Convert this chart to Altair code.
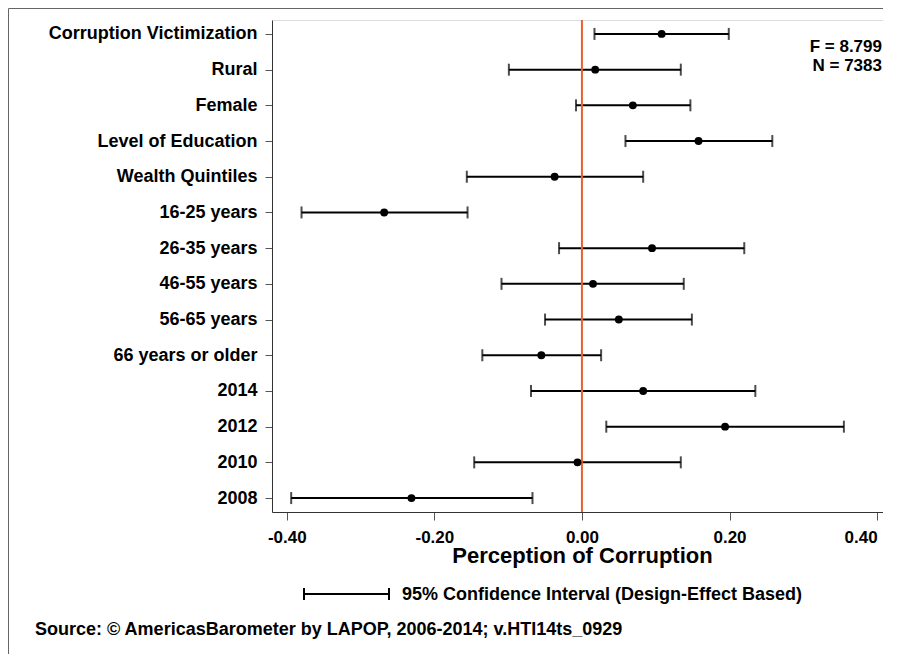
import altair as alt
import pandas as pd

categories = ["Corruption Victimization", "Rural", "Female", "Level of Education",
              "Wealth Quintiles", "16-25 years", "26-35 years", "46-55 years",
              "56-65 years", "66 years or older", "2014", "2012", "2010", "2008"]
estimates = [0.108, 0.018, 0.069, 0.158, -0.037, -0.268, 0.095, 0.015,
             0.050, -0.055, 0.083, 0.194, -0.006, -0.231]
ci_low = [0.017, -0.099, -0.008, 0.059, -0.156, -0.380, -0.031, -0.109,
          -0.050, -0.135, -0.069, 0.033, -0.146, -0.394]
ci_high = [0.199, 0.134, 0.147, 0.258, 0.083, -0.155, 0.220, 0.138,
           0.149, 0.026, 0.235, 0.355, 0.134, -0.067]
x_ticks = [-0.4, -0.2, 0.0, 0.2, 0.4]
stats_text = ["F = 8.799", "N = 7383"]

FONT = "Liberation Sans"

df = pd.DataFrame({"var": categories, "est": estimates, "lo": ci_low, "hi": ci_high})

xscale = alt.Scale(domain=[-0.42, 0.408], nice=False, zero=False)
yscale = alt.Scale(type="point", domain=categories, padding=0.39)

xaxis = alt.Axis(values=x_ticks, grid=False, domainColor="#333333",
                 labelExpr="replace(format(datum.value, '.2f'), '\u2212', '-')",
                 tickColor="#555555", tickSize=8, labelPadding=9, labelFontSize=17,
                 labelFont=FONT, labelFontWeight="bold", labelColor="black",
                 labelFlush=10,
                 title="Perception of Corruption", titleFont=FONT, titleFontSize=22,
                 titleFontWeight="bold", titleColor="black", titlePadding=0,
                 titleX=310, titleAlign="center")
yaxis = alt.Axis(title=None, grid=False, domainColor="#333333", tickColor="#555555",
                 tickSize=7, labelPadding=8, labelFontSize=18, labelFont=FONT,
                 labelFontWeight="bold", labelColor="black", labelLimit=400)

base = alt.Chart(df)

bars = base.mark_rule(color="black", strokeWidth=2).encode(
    x=alt.X("lo:Q", scale=xscale, axis=xaxis),
    x2="hi:Q",
    y=alt.Y("var:N", scale=yscale, axis=yaxis, sort=categories),
)
cap_lo = base.mark_tick(color="black", thickness=2, size=12, orient="vertical").encode(
    x=alt.X("lo:Q", scale=xscale), y=alt.Y("var:N", scale=yscale, sort=categories))
cap_hi = base.mark_tick(color="black", thickness=2, size=12, orient="vertical").encode(
    x=alt.X("hi:Q", scale=xscale), y=alt.Y("var:N", scale=yscale, sort=categories))

zero_line = alt.Chart(pd.DataFrame({"z": [0.0]})).mark_rule(
    color="#E8602F", strokeWidth=2).encode(x=alt.X("z:Q", scale=xscale))

dots = base.mark_circle(color="black", opacity=1, size=62).encode(
    x=alt.X("est:Q", scale=xscale), y=alt.Y("var:N", scale=yscale, sort=categories))

one = pd.DataFrame({"k": [0]})

stats = alt.Chart(pd.DataFrame({"t": stats_text, "yy": [27, 46]})).mark_text(
    font=FONT, fontSize=17, fontWeight="bold", align="right", baseline="middle", color="black"
).encode(x=alt.value(610), y=alt.Y("yy:Q", scale=None), text="t:N")

leg_line = alt.Chart(one).mark_rule(color="black", strokeWidth=2).encode(
    x=alt.value(32), x2=alt.value(117), y=alt.value(574))
leg_cap1 = alt.Chart(one).mark_rule(color="black", strokeWidth=2).encode(
    x=alt.value(32), y=alt.value(568), y2=alt.value(580))
leg_cap2 = alt.Chart(one).mark_rule(color="black", strokeWidth=2).encode(
    x=alt.value(117), y=alt.value(568), y2=alt.value(580))
leg_text = alt.Chart(one).mark_text(
    font=FONT, fontSize=18, fontWeight="bold", align="left", baseline="middle", color="black"
).encode(x=alt.value(130), y=alt.value(575),
         text=alt.value("95% Confidence Interval (Design-Effect Based)"))

source = alt.Chart(one).mark_text(
    font=FONT, fontSize=18, fontWeight="bold", align="left", baseline="middle", color="black"
).encode(x=alt.value(-237), y=alt.value(610),
         text=alt.value("Source: \u00a9 AmericasBarometer by LAPOP, 2006-2014; v.HTI14ts_0929"))

frame_top = alt.Chart(one).mark_rule(color="#666666", strokeWidth=1).encode(
    x=alt.value(-263.5), x2=alt.value(620), y=alt.value(-11.5))
frame_left = alt.Chart(one).mark_rule(color="#666666", strokeWidth=1).encode(
    x=alt.value(-263.5), y=alt.value(-11.5), y2=alt.value(650))

chart = alt.layer(
    bars, cap_lo, cap_hi, zero_line, dots, stats,
    leg_line, leg_cap1, leg_cap2, leg_text, source, frame_top, frame_left
).properties(
    width=611, height=492,
    autosize=alt.AutoSizeParams(type="none"),
    padding={"left": 264, "top": 12, "right": 0, "bottom": 142},
).configure_view(stroke=None).configure(background="white")

chart.save("out.html", embed_options={"renderer": "svg", "actions": False})
